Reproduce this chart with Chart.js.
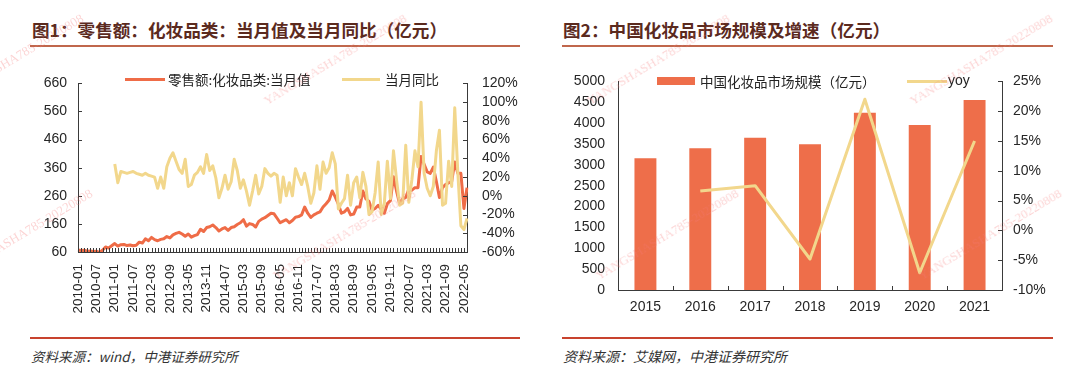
<!DOCTYPE html>
<html>
<head>
<meta charset="utf-8">
<script src="https://cdn.jsdelivr.net/npm/chart.js@4.4.1/dist/chart.umd.min.js"></script>
<style>
body { margin: 0; background: #fff; }
#page { position: relative; width: 1080px; height: 377px; overflow: hidden; font-family: "Noto Sans CJK SC", sans-serif; }
.title { position: absolute; top: 20px; line-height: 20px; font-size: 17.6px; font-weight: bold; color: #5b2a1e; white-space: nowrap; }
.rule_top { position: absolute; top: 45px; height: 2px; background: #c0674c; }
.rule_bottom { position: absolute; top: 337px; height: 2px; background: #c8432e; }
.source { position: absolute; top: 348px; line-height: 16px; font-size: 13.5px; font-style: italic; color: #333; white-space: nowrap; }
canvas { position: absolute; top: 60px; }
.lg_line { position: absolute; height: 3px; }
.lg_box { position: absolute; height: 8px; }
.lg_text { position: absolute; line-height: 16px; font-size: 13.5px; color: #222; white-space: nowrap; }
.wm { position: absolute; line-height: 13px; font-family: "Liberation Serif", serif; font-size: 13px; color: rgba(245, 120, 120, 0.32);
      white-space: nowrap; transform: rotate(-31deg); transform-origin: 0 100%; pointer-events: none; }
</style>
</head>
<body>
<div id="page">
  <div class="title" style="left:32px">图1：零售额：化妆品类：当月值及当月同比（亿元）</div>
  <div class="title" style="left:563px">图2：中国化妆品市场规模及增速（亿元）</div>
  <div class="rule_top" style="left:30px;width:490px"></div>
  <div class="rule_top" style="left:562px;width:491px"></div>

  <canvas id="chart_left" width="540" height="270" style="left:0px"></canvas>
  <canvas id="chart_right" width="540" height="270" style="left:540px"></canvas>

  <!-- legends -->
  <div class="lg_line" style="left:125px;top:78px;width:40px;background:#ef6c47"></div>
  <div class="lg_text" style="left:168px;top:71px">零售额:化妆品类:当月值</div>
  <div class="lg_line" style="left:342px;top:78px;width:38px;background:#f2d78c"></div>
  <div class="lg_text" style="left:385px;top:71px">当月同比</div>

  <div class="lg_box" style="left:657px;top:77px;width:38px;background:#ee6e4a"></div>
  <div class="lg_text" style="left:700px;top:73px">中国化妆品市场规模（亿元）</div>
  <div class="lg_line" style="left:907px;top:80px;width:40px;background:#f2d78c"></div>
  <div class="lg_text" style="left:948px;top:72px;font-family:'Liberation Sans',Arial;font-size:14px">yoy</div>

  <div class="rule_bottom" style="left:30px;width:490px"></div>
  <div class="rule_bottom" style="left:562px;width:491px"></div>
  <div class="source" style="left:31px">资料来源：wind，中港证券研究所</div>
  <div class="source" style="left:563px;font-size:14px">资料来源：艾媒网，中港证券研究所</div>

  <div class="wm" style="left:-55px;top:94px">YANGSHASHA785-20220808</div>
  <div class="wm" style="left:268px;top:94px">YANGSHASHA785-20220808</div>
  <div class="wm" style="left:591px;top:94px">YANGSHASHA785-20220808</div>
  <div class="wm" style="left:914px;top:94px">YANGSHASHA785-20220808</div>
  <div class="wm" style="left:-46px;top:269px">YANGSHASHA785-20220808</div>
  <div class="wm" style="left:277px;top:269px">YANGSHASHA785-20220808</div>
  <div class="wm" style="left:600px;top:269px">YANGSHASHA785-20220808</div>
  <div class="wm" style="left:923px;top:269px">YANGSHASHA785-20220808</div>
</div>

<script>
// chart 1: monthly retail sales of cosmetics (Jan/Feb are merged from 2012 on)
var months = [];
for (var yr = 2010; yr <= 2022; yr++) {
    for (var m = 1; m <= 12; m++) {
        if (yr >= 2012 && m <= 2) continue;
        if (yr == 2022 && m > 6) break;
        months.push(yr + '-' + (m < 10 ? '0' + m : m));
    }
}

var retail_value = [
    67, 65, 66, 63, 64, 62, 63, 58, 66, 78, 74, 82,        // 2010
    90, 81, 86, 87, 83, 85, 82, 84, 95, 92, 107, 100,      // 2011
    112, 104, 100, 105, 107, 115, 110, 121, 126, 130,      // 2012
    124, 116, 124, 113, 118, 122, 141, 133, 147, 150,      // 2013
    156, 147, 135, 142, 147, 137, 147, 150, 158, 164,      // 2014
    175, 152, 161, 158, 149, 169, 177, 182, 190, 198,      // 2015
    196, 180, 164, 170, 175, 164, 172, 184, 186, 192,      // 2016
    220, 198, 183, 192, 198, 203, 220, 232, 245, 277,      // 2017
    255, 230, 198, 203, 215, 192, 195, 220, 220, 277,      // 2018
    249, 240, 209, 215, 226, 212, 198, 232, 243, 328,      // 2019
    277, 232, 249, 254, 283, 280, 289, 289, 400, 372,      // 2020
    345, 340, 362, 311, 254, 289, 300, 306, 311, 380,      // 2021
    340, 340, 215, 289                                     // 2022
];

var retail_yoy = [
    null, null, null, null, null, null, null, null, null, null, null, null,
    34, 14, 26, 25, 24, 25, 26, 24, 23, 22, 24, 22,
    21, 20, 8, 20, 8, 31, 40, 46, 37, 28,
    24, 39, 10, 12, 22, 25, 31, 24, 44, 27,
    32, 19, -2, 8, 22, 7, 15, 39, 27, 8,
    17, 5, -10, 5, 22, 2, 10, 29, 24, 21,
    24, 22, -7, 20, 0, 14, 0, 29, 20, 12,
    24, 10, -8, 3, 32, 7, 36, 24, 30, 46,
    34, -14, -8, -3, 22, -10, 14, 20, -2, 25,
    10, -20, -17, 3, 36, -20, -8, 37, -3, 48,
    17, -10, -8, 54, -7, 17, 48, 31, 100, 24,
    8, 0, 10, 48, 70, -10, -8, 37, 10, 94,
    25, -32, -36, -24
];

// chart 2: market size (100 million yuan) and growth
var years = ['2015', '2016', '2017', '2018', '2019', '2020', '2021'];
var market_size = [3160, 3395, 3650, 3495, 4250, 3955, 4555];
var market_yoy = [null, 6.6, 7.5, -4.8, 22.0, -7.1, 15.0];

var tick_font = { family: "'Liberation Sans', Arial, sans-serif", size: 14 };
var tick_color = '#262626';
var axis_color = '#3a3a3a';

// small tick marks pointing into the plot, as in the source charts
var inner_ticks = {
    id: 'inner_ticks',
    afterDraw: function(chart, args, opts) {
        var ctx = chart.ctx;
        var area = chart.chartArea;
        var x = chart.scales.x;
        var n = chart.data.labels.length;
        var len = opts.len || 4;
        ctx.save();
        ctx.strokeStyle = axis_color;
        ctx.lineWidth = 1;
        ctx.beginPath();
        if (opts.xEvery) {
            for (var i = 0; i < n; i++) {
                var px = Math.round(x.getPixelForValue(i)) + 0.5;
                ctx.moveTo(px, area.bottom);
                ctx.lineTo(px, area.bottom - len);
            }
        }
        if (opts.xBetween) {
            for (var k = 1; k < n; k++) {
                var pb = Math.round((x.getPixelForValue(k - 1) + x.getPixelForValue(k)) / 2) + 0.5;
                ctx.moveTo(pb, area.bottom);
                ctx.lineTo(pb, area.bottom - len);
            }
        }
        if (opts.yLeft) {
            chart.scales.y.ticks.forEach(function(t) {
                var py = Math.round(chart.scales.y.getPixelForValue(t.value)) + 0.5;
                ctx.moveTo(area.left, py);
                ctx.lineTo(area.left + len, py);
            });
        }
        if (opts.yRight) {
            chart.scales.y1.ticks.forEach(function(t) {
                var py = Math.round(chart.scales.y1.getPixelForValue(t.value)) + 0.5;
                ctx.moveTo(area.right, py);
                ctx.lineTo(area.right - len, py);
            });
        }
        ctx.stroke();
        ctx.restore();
    }
};

function pct(v) { return v + '%'; }
function plain(v) { return String(v); }

function init_left_chart() {
    var ctx = document.getElementById('chart_left').getContext('2d');
    return new Chart(ctx, {
        type: 'line',
        data: {
            labels: months,
            datasets: [{
                label: '零售额:化妆品类:当月值',
                data: retail_value,
                yAxisID: 'y',
                borderColor: '#ef6c47',
                borderWidth: 3,
                borderJoinStyle: 'round',
                pointRadius: 0,
                order: 1
            }, {
                label: '当月同比',
                data: retail_yoy,
                yAxisID: 'y1',
                borderColor: '#f2d78c',
                borderWidth: 3,
                borderJoinStyle: 'round',
                pointRadius: 0,
                order: 0
            }]
        },
        options: {
            responsive: false,
            animation: false,
            layout: { padding: { top: 16, left: 0, right: 0, bottom: 0 } },
            plugins: {
                legend: { display: false },
                tooltip: { enabled: false },
                inner_ticks: { xEvery: true, yLeft: true, yRight: true, len: 4 }
            },
            scales: {
                x: {
                    grid: { display: false, drawTicks: false },
                    border: { color: axis_color, width: 1 },
                    ticks: {
                        autoSkip: false, minRotation: 90, maxRotation: 90, padding: 12,
                        color: tick_color, font: { family: tick_font.family, size: 13.5 },
                        callback: function(v, i) { return i % 6 === 0 ? this.getLabelForValue(v) : ''; }
                    },
                    afterFit: function(s) { s.height = 78; }
                },
                y: {
                    position: 'left', min: 60, max: 660,
                    grid: { display: false, drawTicks: false },
                    border: { color: axis_color, width: 1 },
                    ticks: { stepSize: 100, autoSkip: false, padding: 11, color: tick_color, font: tick_font, callback: plain },
                    afterFit: function(s) { s.width = 78; }
                },
                y1: {
                    position: 'right', min: -60, max: 120,
                    grid: { display: false, drawTicks: false },
                    border: { color: axis_color, width: 1 },
                    ticks: { stepSize: 20, autoSkip: false, padding: 15, color: tick_color, font: tick_font, callback: pct },
                    afterFit: function(s) { s.width = 73; }
                }
            }
        },
        plugins: [inner_ticks]
    });
}

function init_right_chart() {
    var ctx = document.getElementById('chart_right').getContext('2d');
    return new Chart(ctx, {
        type: 'bar',
        data: {
            labels: years,
            datasets: [{
                type: 'line',
                label: 'yoy',
                data: market_yoy,
                yAxisID: 'y1',
                borderColor: '#f2d78c',
                borderWidth: 3,
                borderJoinStyle: 'round',
                pointRadius: 0,
                order: 0
            }, {
                type: 'bar',
                label: '中国化妆品市场规模（亿元）',
                data: market_size,
                yAxisID: 'y',
                backgroundColor: '#ee6e4a',
                categoryPercentage: 0.8,
                barPercentage: 0.5,
                order: 1
            }]
        },
        options: {
            responsive: false,
            animation: false,
            layout: { padding: { top: 16, left: 0, right: 0, bottom: 0 } },
            plugins: {
                legend: { display: false },
                tooltip: { enabled: false },
                inner_ticks: { xBetween: true, yRight: true, len: 4 }
            },
            scales: {
                x: {
                    grid: { display: false, drawTicks: false },
                    border: { color: axis_color, width: 1 },
                    ticks: { padding: 9, color: tick_color, font: tick_font },
                    afterFit: function(s) { s.height = 40; }
                },
                y: {
                    position: 'left', min: 0, max: 5000,
                    grid: { display: false, drawTicks: false },
                    border: { color: axis_color, width: 1 },
                    ticks: { stepSize: 500, autoSkip: false, padding: 13, color: tick_color, font: tick_font, callback: plain },
                    afterFit: function(s) { s.width = 78; }
                },
                y1: {
                    position: 'right', min: -10, max: 25,
                    grid: { display: false, drawTicks: false },
                    border: { color: axis_color, width: 1 },
                    ticks: { stepSize: 5, autoSkip: false, padding: 11, color: tick_color, font: tick_font, callback: pct },
                    afterFit: function(s) { s.width = 78; }
                }
            }
        },
        plugins: [inner_ticks]
    });
}

var left_chart = init_left_chart();
var right_chart = init_right_chart();
</script>
</body>
</html>
